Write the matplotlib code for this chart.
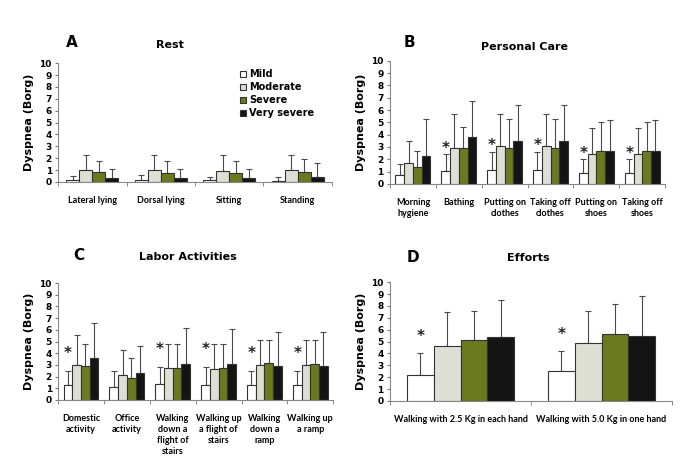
import numpy as np
import matplotlib.pyplot as plt

# series names and colours
groups = ['Mild', 'Moderate', 'Severe', 'Very severe']
colors = ['#ffffff', '#dedfd4', '#6b7a1e', '#141414']

# A - Rest
rest_cats = ['Lateral lying', 'Dorsal lying', 'Sitting', 'Standing']
rest_mean = [[0.2, 0.2, 0.15, 0.1],
             [1.0, 1.0, 0.95, 1.0],
             [0.8, 0.75, 0.75, 0.8],
             [0.35, 0.3, 0.3, 0.4]]
rest_top = [[0.5, 0.55, 0.45, 0.4],
            [2.3, 2.3, 2.25, 2.3],
            [1.75, 1.75, 1.8, 1.95],
            [1.05, 1.05, 1.05, 1.6]]
rest_star = [False, False, False, False]

# B - Personal care
care_cats = ['Morning\nhygiene', 'Bathing', 'Putting on\nclothes', 'Taking off\nclothes',
             'Putting on\nshoes', 'Taking off\nshoes']
care_mean = [[0.75, 1.05, 1.1, 1.1, 0.85, 0.85],
             [1.7, 2.95, 3.1, 3.1, 2.4, 2.4],
             [1.4, 2.95, 2.9, 2.9, 2.65, 2.65],
             [2.3, 3.8, 3.5, 3.5, 2.65, 2.65]]
care_top = [[1.65, 2.4, 2.6, 2.6, 2.0, 2.0],
            [3.5, 5.7, 5.65, 5.65, 4.55, 4.55],
            [2.7, 4.65, 5.25, 5.25, 5.05, 5.05],
            [5.3, 6.7, 6.4, 6.4, 5.2, 5.2]]
care_star = [False, True, True, True, True, True]

# C - Labor activities
labor_cats = ['Domestic\nactivity', 'Office\nactivity', 'Walking\ndown a\nflight of\nstairs',
              'Walking up\na flight of\nstairs', 'Walking\ndown a\nramp', 'Walking up\na ramp']
labor_mean = [[1.25, 1.15, 1.35, 1.3, 1.3, 1.3],
              [3.0, 2.1, 2.7, 2.65, 3.0, 3.0],
              [2.9, 1.9, 2.75, 2.75, 3.15, 3.1],
              [3.6, 2.3, 3.05, 3.05, 2.9, 2.9]]
labor_top = [[2.45, 2.45, 2.85, 2.8, 2.5, 2.5],
             [5.6, 4.25, 4.75, 4.75, 5.1, 5.1],
             [4.75, 3.6, 4.8, 4.8, 5.15, 5.15],
             [6.55, 4.65, 6.15, 6.1, 5.8, 5.8]]
labor_star = [True, False, True, True, True, True]

# D - Efforts
effort_cats = ['Walking with 2.5 Kg in each hand', 'Walking with 5.0 Kg in one hand']
effort_mean = [[2.15, 2.5],
               [4.65, 4.85],
               [5.15, 5.6],
               [5.35, 5.5]]
effort_top = [[4.05, 4.2],
              [7.45, 7.6],
              [7.6, 8.2],
              [8.5, 8.85]]
effort_star = [True, True]

lab_font = 'Lato'


def panel(ax, cats, means, tops, stars, letter, title, star_off, letter_xy, title_xy):
    n = len(cats)
    x = np.arange(n)
    w = 0.19
    for i, g in enumerate(groups):
        pos = x + (i - 1.5) * w
        m = np.array(means[i])
        t = np.array(tops[i])
        ax.bar(pos, m, w, color=colors[i], edgecolor='#333333', linewidth=0.8, label=g, zorder=2)
        ax.errorbar(pos, m, yerr=[np.zeros(n), t - m], fmt='none', ecolor='#4a4a4a',
                    elinewidth=0.8, capsize=2.5, capthick=0.8, zorder=1)
    for j in range(n):
        if stars[j]:
            ax.text(x[j] - 1.5 * w, tops[0][j] + star_off, '*', ha='center', va='center',
                    fontsize=11, fontweight='bold', color='#222222')
    ax.set_xlim(-0.5, n - 0.5)
    ax.set_ylim(0, 10)
    ax.set_yticks(range(11))
    ax.set_xticks(x)
    ax.set_xticklabels(cats, fontsize=6.5, fontweight='bold', family=lab_font, linespacing=1.3)
    ax.set_xticks(np.arange(n + 1) - 0.5, minor=True)
    ax.tick_params(axis='x', which='major', length=0, pad=10)
    ax.tick_params(axis='x', which='minor', length=3, color='#777777')
    ax.tick_params(axis='y', length=2.5, color='#777777', labelsize=6.5, pad=2)
    for lbl in ax.get_yticklabels():
        lbl.set_fontweight('bold')
    ax.set_ylabel('Dyspnea (Borg)', fontsize=8, fontweight='bold', labelpad=4)
    for s in ['top', 'right']:
        ax.spines[s].set_visible(False)
    for s in ['left', 'bottom']:
        ax.spines[s].set_color('#888888')
        ax.spines[s].set_linewidth(0.8)
    ax.text(letter_xy[0], letter_xy[1], letter, transform=ax.transAxes, fontsize=11,
            fontweight='bold', va='center')
    ax.text(title_xy[0], title_xy[1], title, transform=ax.transAxes, fontsize=8,
            fontweight='bold', ha='center', va='center')


fig = plt.figure(figsize=(6.83, 4.75), dpi=100)
axA = fig.add_axes([0.085, 0.617, 0.401, 0.25])
axB = fig.add_axes([0.571, 0.613, 0.403, 0.259])
axC = fig.add_axes([0.085, 0.158, 0.403, 0.246])
axD = fig.add_axes([0.571, 0.156, 0.413, 0.25])

panel(axA, rest_cats, rest_mean, rest_top, rest_star, 'A', 'Rest', 0.8,
      (0.03, 1.176), (0.41, 1.15))
panel(axB, care_cats, care_mean, care_top, care_star, 'B', 'Personal Care', 0.5,
      (0.05, 1.146), (0.49, 1.11))
panel(axC, labor_cats, labor_mean, labor_top, labor_star, 'C', 'Labor Activities', 1.5,
      (0.055, 1.24), (0.47, 1.22))
panel(axD, effort_cats, effort_mean, effort_top, effort_star, 'D', 'Efforts', 1.4,
      (0.06, 1.21), (0.49, 1.2))

axA.legend(loc='upper right', bbox_to_anchor=(0.95, 0.98), frameon=False,
           prop={'weight': 'bold', 'size': 7}, handlelength=0.6, handleheight=0.6,
           handletextpad=0.3, labelspacing=0.3, borderaxespad=0)

fig.savefig('out.png', dpi=100)
